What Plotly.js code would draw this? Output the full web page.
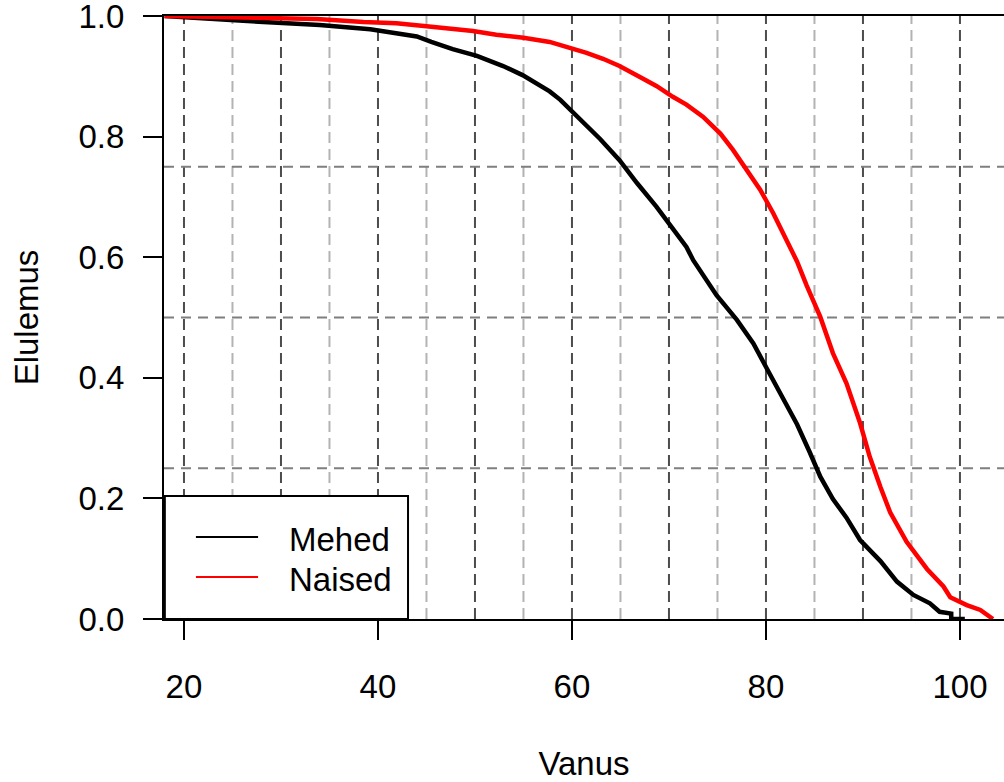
<!DOCTYPE html>
<html>
<head>
<meta charset="utf-8">
<script src="https://cdn.plot.ly/plotly-3.0.1.min.js"></script>
<style>html,body{margin:0;padding:0;background:#fff;overflow:hidden;}</style>
</head>
<body>
<div id="chart" style="width:1004px;height:782px;"></div>
<script>
// Series names
const seriesNames = ["Mehed", "Naised"];
const seriesColors = ["#000000", "#ff0000"];

// Mehed (men) survival curve
const menAge = [18.0, 21.6, 26.1, 34.0, 36.8, 39.2, 41.2, 44.0, 45.5, 47.7, 50.2, 51.2, 52.9, 54.9, 56.0, 57.7, 58.8, 60.1, 61.5, 62.9, 64.9, 66.7, 68.7, 70.1, 71.8, 72.5, 73.9, 74.9, 77.0, 78.7, 80.1, 81.8, 83.2, 84.5, 85.6, 86.9, 88.3, 89.7, 91.8, 93.5, 95.2, 96.9, 97.9, 99.1, 99.1, 100.5];
const menSurv = [1.0, 0.996, 0.992, 0.985, 0.981, 0.978, 0.973, 0.966, 0.957, 0.945, 0.934, 0.928, 0.917, 0.902, 0.892, 0.875, 0.861, 0.840, 0.817, 0.796, 0.761, 0.723, 0.684, 0.654, 0.617, 0.595, 0.562, 0.537, 0.496, 0.457, 0.415, 0.364, 0.323, 0.277, 0.236, 0.199, 0.168, 0.131, 0.096, 0.062, 0.040, 0.026, 0.012, 0.009, 0.0, 0.0];

// Naised (women) survival curve
const womenAge = [18.0, 24.4, 33.7, 38.5, 41.9, 45.0, 47.4, 49.8, 52.2, 55.0, 57.7, 59.8, 61.5, 63.2, 64.9, 67.0, 68.7, 70.4, 71.8, 73.5, 75.3, 76.6, 78.0, 79.4, 80.75, 82.1, 83.2, 84.2, 85.6, 86.9, 88.3, 89.7, 90.7, 91.8, 92.8, 94.5, 95.5, 96.6, 98.3, 99.0, 100.7, 102.1, 103.4];
const womenSurv = [1.0, 0.998, 0.995, 0.990, 0.988, 0.983, 0.979, 0.975, 0.969, 0.964, 0.957, 0.948, 0.939, 0.929, 0.917, 0.899, 0.884, 0.866, 0.853, 0.833, 0.805, 0.778, 0.745, 0.712, 0.673, 0.627, 0.593, 0.553, 0.501, 0.441, 0.391, 0.325, 0.269, 0.219, 0.177, 0.128, 0.107, 0.083, 0.054, 0.036, 0.023, 0.015, 0.0];

// Axis ticks and grid positions
const xTickVals = [20, 40, 60, 80, 100];
const yTickVals = [0, 0.2, 0.4, 0.6, 0.8, 1.0];
const xGridMajor = [20, 30, 40, 50, 60, 70, 80, 90, 100];
const xGridMinor = [25, 35, 45, 55, 65, 75, 85, 95];
const yGrid = [0.25, 0.5, 0.75];

const FONT = '"Liberation Sans", Arial, Helvetica, sans-serif';
const FS = 33;

const traces = [
  {x: menAge, y: menSurv, name: seriesNames[0], type: 'scatter', mode: 'lines',
   line: {color: seriesColors[0], width: 4.5, shape: 'linear'}},
  {x: womenAge, y: womenSurv, name: seriesNames[1], type: 'scatter', mode: 'lines',
   line: {color: seriesColors[1], width: 4.5, shape: 'linear'}}
];

const shapes = [];
xGridMinor.forEach(v => shapes.push({type: 'line', xref: 'x', yref: 'paper', x0: v, x1: v, y0: 0, y1: 1, layer: 'below',
  line: {color: '#b3b3b3', width: 2, dash: '11px,6px'}}));
xGridMajor.forEach(v => shapes.push({type: 'line', xref: 'x', yref: 'paper', x0: v, x1: v, y0: 0, y1: 1, layer: 'below',
  line: {color: '#4d4d4d', width: 2, dash: '11px,6px'}}));
yGrid.forEach(v => shapes.push({type: 'line', xref: 'paper', yref: 'y', x0: 0, x1: 1, y0: v, y1: v, layer: 'below',
  line: {color: '#7f7f7f', width: 2, dash: '10px,7px'}}));

// Legend box (drawn as in the original base-graphics legend)
shapes.push({type: 'rect', xref: 'paper', yref: 'paper', x0: 0.001, x1: 0.2905, y0: 0, y1: 0.204, layer: 'above',
  fillcolor: '#ffffff', line: {color: '#000000', width: 2}});
const legendY = [0.136, 0.0697];
seriesNames.forEach((n, i) => {
  shapes.push({type: 'line', xref: 'paper', yref: 'paper', x0: 0.038, x1: 0.112, y0: legendY[i], y1: legendY[i], layer: 'above',
    line: {color: seriesColors[i], width: 2}});
});
const annotations = seriesNames.map((n, i) => ({
  text: n, xref: 'paper', yref: 'paper', x: 0.147, y: legendY[i] - 0.004, xanchor: 'left', yanchor: 'middle',
  showarrow: false, font: {family: FONT, size: FS, color: '#000'}
}));

const layout = {
  width: 1004, height: 782,
  margin: {l: 164, r: 0, t: 16, b: 163, pad: 0},
  paper_bgcolor: '#ffffff', plot_bgcolor: '#ffffff',
  showlegend: false,
  font: {family: FONT, size: FS, color: '#000'},
  xaxis: {
    range: [17.94, 104.54], tickvals: xTickVals, ticktext: xTickVals.map(String),
    ticks: 'outside', ticklen: 19, tickwidth: 2, tickcolor: '#000',
    showline: true, linecolor: '#000', linewidth: 2, mirror: true,
    showgrid: false, zeroline: false,
    ticklabelstandoff: 18, ticklabeloverflow: 'allow',
    tickfont: {family: FONT, size: FS, color: '#000'},
    title: {text: 'Vanus', font: {family: FONT, size: FS, color: '#000'}, standoff: 48},
    automargin: false
  },
  yaxis: {
    range: [0, 1], tickvals: yTickVals, ticktext: yTickVals.map(v => v.toFixed(1)),
    ticks: 'outside', ticklen: 19, tickwidth: 2, tickcolor: '#000',
    showline: true, linecolor: '#000', linewidth: 2, mirror: false,
    showgrid: false, zeroline: false,
    ticklabelstandoff: 12, ticklabeloverflow: 'allow',
    tickfont: {family: FONT, size: FS, color: '#000'},
    title: {text: 'Elulemus', font: {family: FONT, size: FS, color: '#000'}, standoff: 30},
    automargin: false
  },
  shapes: shapes,
  annotations: annotations
};

Plotly.newPlot('chart', traces, layout, {displayModeBar: false, staticPlot: true});
</script>
</body>
</html>
